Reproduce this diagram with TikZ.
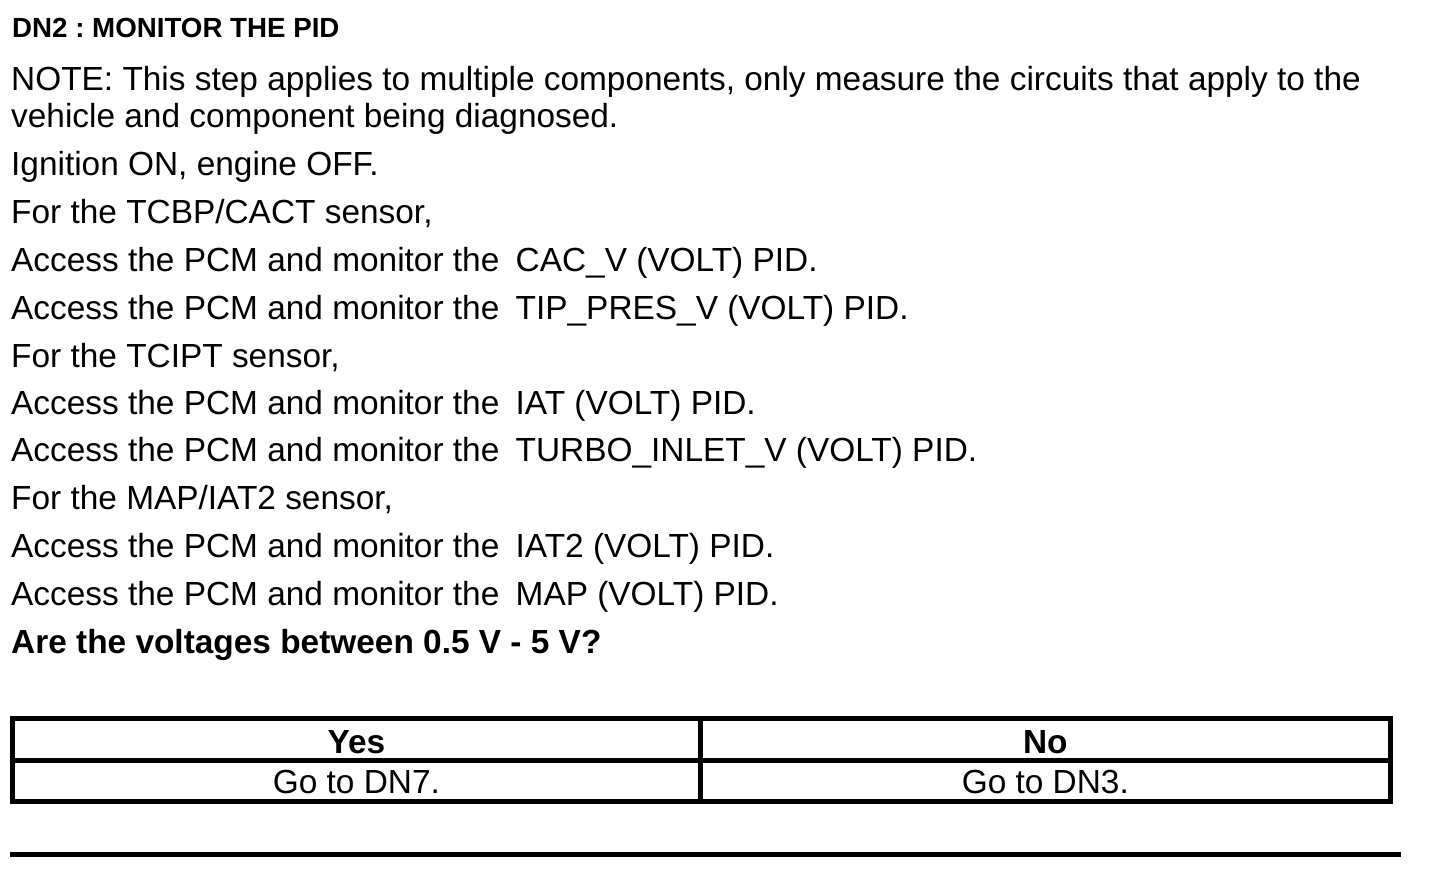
\documentclass[tikz,border=0pt]{standalone}
\usepackage{fontspec}
\setmainfont{Liberation Sans}
\begin{document}
\frenchspacing
\begin{tikzpicture}[x=1pt,y=-1pt,
  txt/.style={anchor=base west,inner sep=0pt,font=\fontsize{33.4}{40}\selectfont\frenchspacing},
  btxt/.style={txt,font=\fontsize{33.4}{40}\selectfont\bfseries\frenchspacing},
  ttl/.style={anchor=base west,inner sep=0pt,font=\fontsize{27.7}{33}\selectfont\bfseries\frenchspacing},
  cell/.style={anchor=base,inner sep=0pt,font=\fontsize{33.4}{40}\selectfont\frenchspacing},
  bcell/.style={cell,font=\fontsize{33.4}{40}\selectfont\bfseries},
  rulestyle/.style={line width=4.7pt,line cap=butt}]
\useasboundingbox (0,0) rectangle (1440,882);
\fill[white] (0,0) rectangle (1440,882);
\node[ttl] (title) at (12,38) {DN2 : MONITOR THE PID};
\node[txt] (n1) at (11,91) {NOTE: This step applies to multiple components, only measure the circuits that apply to the};
\node[txt] (n2) at (11,128) {vehicle and component being diagnosed.};
\node[txt] (ign) at (11,176) {Ignition ON, engine OFF.};
\node[txt] (f1) at (11,224) {For the TCBP/CACT sensor,};
\node[txt] (a1) at (11,272) {Access the PCM and monitor the};
\node[txt] (p1) at (515.5,272) {CAC\_V (VOLT) PID.};
\node[txt] (a2) at (11,320) {Access the PCM and monitor the};
\node[txt] (p2) at (515.5,320) {TIP\_PRES\_V (VOLT) PID.};
\node[txt] (f2) at (11,367) {For the TCIPT sensor,};
\node[txt] (a3) at (11,414) {Access the PCM and monitor the};
\node[txt] (p3) at (515.5,414) {IAT (VOLT) PID.};
\node[txt] (a4) at (11,461) {Access the PCM and monitor the};
\node[txt] (p4) at (515.5,461) {TURBO\_INLET\_V (VOLT) PID.};
\node[txt] (f3) at (11,509) {For the MAP/IAT2 sensor,};
\node[txt] (a5) at (11,557) {Access the PCM and monitor the};
\node[txt] (p5) at (515.5,557) {IAT2 (VOLT) PID.};
\node[txt] (a6) at (11,605) {Access the PCM and monitor the};
\node[txt] (p6) at (515.5,605) {MAP (VOLT) PID.};
\node[btxt] (q) at (11,653) {Are the voltages between 0.5 V - 5 V?};
% table
\draw[rulestyle] (12.5,718.3) rectangle (1390.3,801.8);
\draw[rulestyle] (12.5,760.3) -- (1390.3,760.3);
\draw[rulestyle] (700.3,718.3) -- (700.3,801.8);
\node[bcell] (yes) at (356.4,753) {Yes};
\node[bcell] (no) at (1045.3,753) {No};
\node[cell] (yesgo) at (356.4,793) {Go to DN7.};
\node[cell] (nogo) at (1045.3,793) {Go to DN3.};
\draw[rulestyle] (10,854.3) -- (1400.7,854.3);
\end{tikzpicture}
\end{document}
